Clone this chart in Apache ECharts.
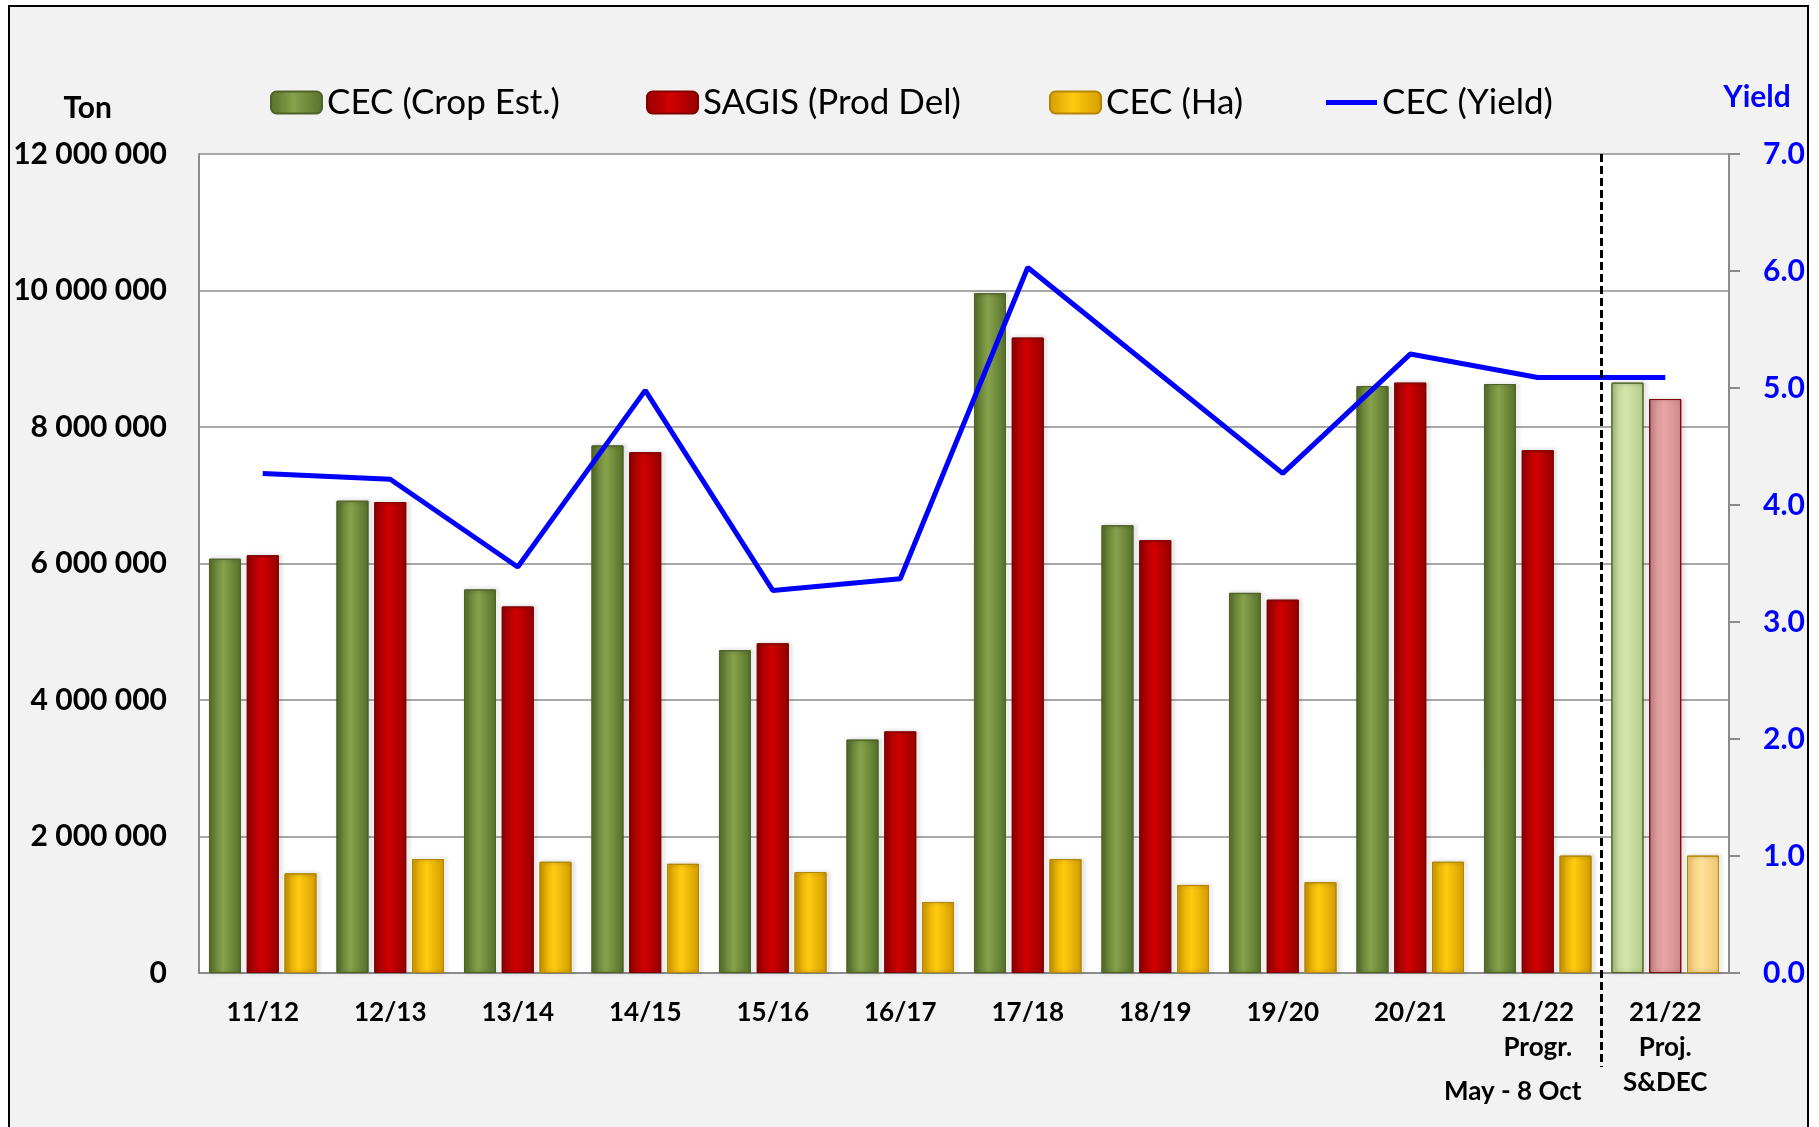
<!DOCTYPE html>
<html lang="en">
<head>
<meta charset="UTF-8">
<title>CEC crop estimates</title>
<script src="https://cdn.jsdelivr.net/npm/echarts@6/dist/echarts.min.js"></script>
<style>
    body { margin: 0; background: #fff; overflow: hidden; }
    #frame { position: absolute; left: 8px; top: 5px; width: 1797px; height: 1200px; border: 2px solid #000; background: #f2f2f2; }
    #main { position: absolute; left: 0; top: 0; width: 1819px; height: 1127px; }
</style>
</head>
<body>
<div id="frame"></div>
<div id="main"></div>
<script>
    // seasons on the x axis
    var categories = ['11/12', '12/13', '13/14', '14/15', '15/16', '16/17', '17/18', '18/19', '19/20', '20/21', '21/22\nProgr.', '21/22\nProj.\nS&DEC'];
    // tons
    var cropEst = [6070000, 6920000, 5620000, 7730000, 4730000, 3420000, 9960000, 6560000, 5570000, 8600000, 8630000, 8650000];
    var sagis = [6120000, 6900000, 5370000, 7630000, 4830000, 3540000, 9310000, 6340000, 5470000, 8650000, 7660000, 8410000];
    // hectares
    var hectares = [1460000, 1670000, 1630000, 1600000, 1480000, 1040000, 1670000, 1290000, 1330000, 1630000, 1720000, 1720000];
    // t/ha
    var yields = [4.27, 4.22, 3.47, 4.98, 3.27, 3.37, 6.03, 5.15, 4.27, 5.29, 5.09, 5.09];

    var font = 'Lato, "Open Sans", sans-serif';
    var grey = '#8c8c8c';

    function shade(edge, mid) {
        return {
            type: 'linear', x: 0, y: 0, x2: 1, y2: 0,
            colorStops: [{offset: 0, color: edge}, {offset: 0.45, color: mid}, {offset: 1, color: edge}]
        };
    }

    // last bar of each series is the projection, drawn pale
    function withProjection(values, pale) {
        return values.map(function (v, i) {
            return i === values.length - 1 ? {value: v, itemStyle: {color: pale}} : v;
        });
    }

    function spaced(v) {
        return String(v).replace(/\B(?=(\d{3})+(?!\d))/g, ' ');
    }

    var legendBase = {
        top: 85,
        padding: 0,
        itemWidth: 51,
        itemHeight: 22,
        textStyle: {fontSize: 35, color: '#000', fontFamily: font}
    };

    function legendAt(left, data, extra) {
        return Object.assign({}, legendBase, {left: left, data: data}, extra || {});
    }

    var barShadow = {shadowColor: 'rgba(0,0,0,0.35)', shadowBlur: 4, shadowOffsetX: 2};

    var option = {
        animation: false,
        backgroundColor: 'transparent',
        legend: [
            legendAt(270, ['CEC (Crop Est.)']),
            legendAt(646, ['SAGIS (Prod Del)']),
            legendAt(1049, ['CEC (Ha)']),
            legendAt(1326, [{name: 'CEC (Yield)', icon: 'rect'}], {itemHeight: 5})
        ],
        grid: {
            left: 199, right: 90, top: 154, bottom: 154,
            show: true, backgroundColor: '#fff', borderWidth: 0
        },
        xAxis: {
            type: 'category',
            data: categories,
            axisLine: {lineStyle: {color: grey, width: 2}},
            axisTick: {show: false},
            axisLabel: {
                interval: 0, margin: 22, fontSize: 26, lineHeight: 35,
                fontWeight: 'bold', color: '#000', fontFamily: font
            }
        },
        yAxis: [{
            type: 'value',
            min: 0, max: 12000000, interval: 2000000,
            name: 'Ton',
            nameGap: 46,
            nameTextStyle: {fontSize: 30, fontWeight: 'bold', color: '#000', fontFamily: font, align: 'right', verticalAlign: 'middle', padding: [0, 87, 0, 0]},
            axisLine: {show: true, lineStyle: {color: grey, width: 2}},
            axisTick: {show: false},
            axisLabel: {formatter: spaced, margin: 32, fontSize: 30, fontWeight: 'bold', color: '#000', fontFamily: font},
            splitLine: {lineStyle: {color: grey, width: 1.5}}
        }, {
            type: 'value',
            position: 'right',
            min: 0, max: 7, interval: 1,
            name: 'Yield',
            nameGap: 57,
            nameTextStyle: {fontSize: 30, fontWeight: 'bold', color: '#0000ff', fontFamily: font, align: 'center', verticalAlign: 'middle', padding: [0, 0, 0, 56]},
            axisLine: {show: true, lineStyle: {color: grey, width: 2}},
            axisTick: {show: true, length: 11, lineStyle: {color: grey, width: 2}},
            axisLabel: {
                formatter: function (v) { return v.toFixed(1); },
                margin: 34, fontSize: 30, fontWeight: 'bold', color: '#0000ff', fontFamily: font
            },
            splitLine: {show: false}
        }],
        series: [{
            name: 'CEC (Crop Est.)',
            type: 'bar',
            barWidth: 32,
            barGap: '18%',
            itemStyle: Object.assign({color: shade('#56702b', '#86a34b'), borderColor: '#4f6228', borderWidth: 1}, barShadow),
            data: withProjection(cropEst, shade('#b6cc88', '#d4e6ab'))
        }, {
            name: 'SAGIS (Prod Del)',
            type: 'bar',
            barWidth: 32,
            itemStyle: Object.assign({color: shade('#950000', '#d20000'), borderColor: '#800000', borderWidth: 1}, barShadow),
            data: withProjection(sagis, shade('#cf8a8a', '#e8a6a6'))
        }, {
            name: 'CEC (Ha)',
            type: 'bar',
            barWidth: 32,
            itemStyle: Object.assign({color: shade('#d49c00', '#ffcc10'), borderColor: '#b38600', borderWidth: 1}, barShadow),
            data: withProjection(hectares, shade('#f0c870', '#ffe298'))
        }, {
            name: 'CEC (Yield)',
            type: 'line',
            yAxisIndex: 1,
            symbol: 'none',
            z: 5,
            itemStyle: {color: '#0000ff'},
            lineStyle: {color: '#0000ff', width: 5},
            data: yields
        }]
    };

    var chart = echarts.init(document.getElementById('main'));
    chart.setOption(option);

    // dashed divider between progress and projection, plus the period note
    var xa = chart.convertToPixel({xAxisIndex: 0}, 10);
    var xb = chart.convertToPixel({xAxisIndex: 0}, 11);
    var yTop = chart.convertToPixel({yAxisIndex: 0}, 12000000);
    var xMid = (xa + xb) / 2;
    chart.setOption({
        graphic: [{
            type: 'line',
            z: 20,
            shape: {x1: xMid, y1: yTop, x2: xMid, y2: 1067},
            style: {stroke: '#000', lineWidth: 3, lineDash: [8, 4]}
        }, {
            type: 'text',
            z: 20,
            x: xa - 25,
            y: 1092,
            style: {text: 'May - 8 Oct', fontSize: 26, fontWeight: 'bold', fontFamily: font, fill: '#000', align: 'center', verticalAlign: 'middle'}
        }]
    });
</script>
</body>
</html>
